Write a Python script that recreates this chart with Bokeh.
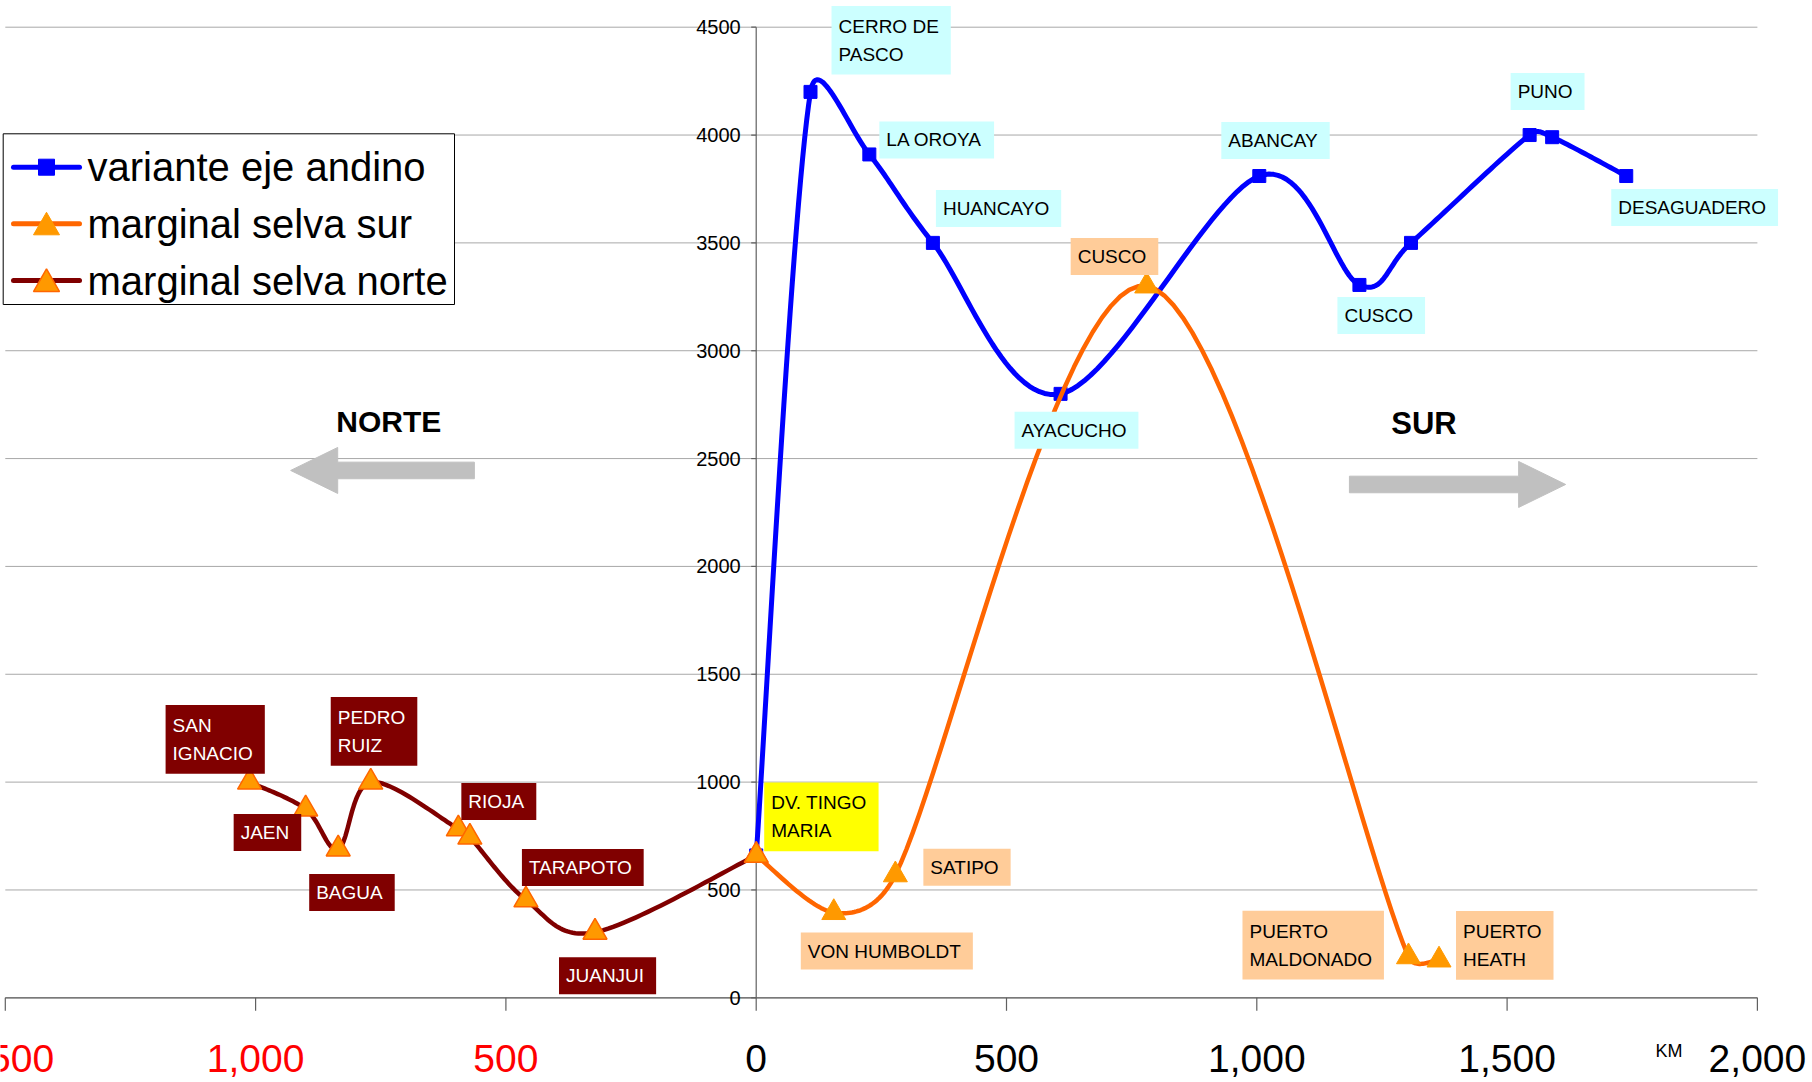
import math
from bokeh.plotting import figure
from bokeh.models import Range1d, Label
from bokeh.core.properties import value
from bokeh.embed import file_html
from bokeh.resources import INLINE

# ---------------- data ----------------
andino_km = [0, 108.5, 226, 353, 608, 1005, 1205, 1308, 1545, 1590, 1738]
andino_alt = [660, 4200, 3910, 3500, 2800, 3810, 3305, 3500, 4000, 3990, 3810]
andino_names = ["", "CERRO DE\nPASCO", "LA OROYA", "HUANCAYO", "AYACUCHO", "ABANCAY",
                "CUSCO", "", "PUNO", "", "DESAGUADERO"]

sur_km = [0, 155, 278, 780, 1303, 1364]
sur_alt = [660, 395, 570, 3300, 190, 175]
sur_names = ["DV. TINGO\nMARIA", "VON HUMBOLDT", "SATIPO", "CUSCO",
             "PUERTO\nMALDONADO", "PUERTO\nHEATH"]

norte_km = [-1012, -900, -835, -770, -595, -572, -460, -322, 0]
norte_alt = [1000, 875, 690, 1000, 783, 745, 454, 304, 660]
norte_names = ["SAN\nIGNACIO", "JAEN", "BAGUA", "PEDRO\nRUIZ", "RIOJA", "",
               "TARAPOTO", "JUANJUI", ""]

series_names = ["variante eje andino", "marginal selva sur", "marginal selva norte"]

x_ticks = [-1500, -1000, -500, 0, 500, 1000, 1500, 2000]
x_tick_labels = ["1,500", "1,000", "500", "0", "500", "1,000", "1,500", "2,000"]
y_ticks = [0, 500, 1000, 1500, 2000, 2500, 3000, 3500, 4000, 4500]
y_tick_labels = [str(v) for v in y_ticks]

# label box offsets (px, from point to box top-left; dy downward)
andino_dx = [0, 21, 10, 3, -46, -38, -22, 0, -19, 0, -15]
andino_dy = [0, -86, -33, -53, 18, -54, 12, 0, -62, 0, 13]
sur_dx = [8, -33, 28, -76, -166, 17]
sur_dy = [-73, 20, -26, -48, -46, -49]
norte_dx = [-84, -72, -29, -40, 3, 0, -4, -36, 0]
norte_dy = [-77, 5, 25, -85, -46, 0, -51, 25, 0]

# ---------------- layout ----------------
W, H = 1812, 1082
ORIGIN_X, ORIGIN_Y = 755.7, 997.3      # pixel position of (0 km, 0 m)
PX_KM = 0.5006
PX_M = 0.21569
X0, X1 = -ORIGIN_X / PX_KM, (W - ORIGIN_X) / PX_KM
Y0, Y1 = -(H - ORIGIN_Y) / PX_M, ORIGIN_Y / PX_M
XMIN, XMAX, YMAX = -1500, 2000, 4500


def PX(px):
    return (px - ORIGIN_X) / PX_KM


def PY(py):
    return (ORIGIN_Y - py) / PX_M


FONT = "Liberation Sans"
BLUE = "#0000FF"
ORANGE = "#FF6600"
TRI_FILL = "#FF9900"
MAROON = "#800000"
GRID = "#A8A8A8"
AXIS = "#606060"


def excel_smooth(xs, ys, n=30):
    P = [(x * PX_KM, y * PX_M) for x, y in zip(xs, ys)]
    out_x, out_y = [xs[0]], [ys[0]]

    def d(a, b):
        return math.hypot(a[0] - b[0], a[1] - b[1])

    for i in range(len(P) - 1):
        p0 = P[i - 1] if i > 0 else P[i]
        p1, p2 = P[i], P[i + 1]
        p3 = P[i + 2] if i + 2 < len(P) else P[i + 1]
        d12, d02, d13 = d(p1, p2), d(p0, p2), d(p1, p3)
        f1 = min(1 / 6, d12 / 2 / d02) if d02 > 0 else 0
        f2 = min(1 / 6, d12 / 2 / d13) if d13 > 0 else 0
        c1 = (p1[0] + (p2[0] - p0[0]) * f1, p1[1] + (p2[1] - p0[1]) * f1)
        c2 = (p2[0] - (p3[0] - p1[0]) * f2, p2[1] - (p3[1] - p1[1]) * f2)
        for k in range(1, n + 1):
            t = k / n
            a, b, c, e = (1 - t) ** 3, 3 * (1 - t) ** 2 * t, 3 * (1 - t) * t ** 2, t ** 3
            px = a * p1[0] + b * c1[0] + c * c2[0] + e * p2[0]
            py = a * p1[1] + b * c1[1] + c * c2[1] + e * p2[1]
            out_x.append(px / PX_KM)
            out_y.append(py / PX_M)
    return out_x, out_y


p = figure(width=W, height=H, output_backend="svg", toolbar_location=None,
           x_range=Range1d(X0, X1), y_range=Range1d(Y0, Y1),
           x_axis_location=None, y_axis_location=None,
           min_border_left=0, min_border_right=0, min_border_top=0, min_border_bottom=0)
p.outline_line_color = None
p.background_fill_color = "white"
p.border_fill_color = "white"
for g in p.grid:
    g.visible = False

# horizontal gridlines
p.segment(x0=[XMIN] * len(y_ticks), y0=y_ticks, x1=[XMAX] * len(y_ticks), y1=y_ticks,
          line_color=GRID, line_width=1)

# x axis (bottom) with ticks and labels
p.segment(x0=[XMIN], y0=[0], x1=[XMAX], y1=[0], line_color=AXIS, line_width=1.2)
p.segment(x0=x_ticks, y0=[0] * len(x_ticks), x1=x_ticks, y1=[-13 / PX_M] * len(x_ticks),
          line_color=AXIS, line_width=1.2)
p.text(x=x_ticks, y=[-60.5 / PX_M] * len(x_ticks), text=x_tick_labels,
       text_color=["#FF0000" if t < 0 else "black" for t in x_ticks],
       text_align="center", text_baseline="middle", text_font=value(FONT),
       text_font_size="39px")
p.text(x=[XMAX], y=[-53 / PX_M], x_offset=-102, text=["KM"], text_align="left",
       text_baseline="middle", text_font=value(FONT), text_font_size="18px",
       text_color="black")

# central y axis
p.segment(x0=[0], y0=[0], x1=[0], y1=[YMAX], line_color=AXIS, line_width=1.2)
p.segment(x0=[-5 / PX_KM] * len(y_ticks), y0=y_ticks, x1=[0] * len(y_ticks), y1=y_ticks,
          line_color=AXIS, line_width=1.2)
p.text(x=[0] * len(y_ticks), y=y_ticks, text=y_tick_labels, x_offset=-15.5,
       text_align="right", text_baseline="middle", text_font=value(FONT),
       text_font_size="20px", text_color="black")


# direction arrows
def arrow(x_tail, x_head_base, x_tip, yc):
    hh = 23 / PX_M
    sh = 8.3 / PX_M
    xs = [x_tail, x_head_base, x_head_base, x_tip, x_head_base, x_head_base, x_tail]
    ys = [yc - sh, yc - sh, yc - hh, yc, yc + hh, yc + sh, yc + sh]
    p.patch(xs, ys, fill_color="#C0C0C0", line_color="#C0C0C0")


arrow(-563, -836, -930, 2445)
arrow(1185, 1523, 1617, 2380)
p.text(x=[-734], y=[2670], text=["NORTE"], text_align="center", text_baseline="middle",
       text_font=value(FONT), text_font_size="30px", text_font_style="bold", text_color="black")
p.text(x=[1334], y=[2663], text=["SUR"], text_align="center", text_baseline="middle",
       text_font=value(FONT), text_font_size="31px", text_font_style="bold", text_color="black")

# series
bx, by = excel_smooth(andino_km, andino_alt)
p.line(bx, by, line_color=BLUE, line_width=5, line_join="round")
p.scatter(andino_km, andino_alt, marker="square", size=13, fill_color=BLUE, line_color=BLUE)

ox, oy = excel_smooth(sur_km, sur_alt)
p.line(ox, oy, line_color=ORANGE, line_width=4.5, line_join="round")
p.scatter(sur_km, sur_alt, marker="triangle", size=24, fill_color=TRI_FILL, line_color=TRI_FILL)

nx, ny = excel_smooth(norte_km, norte_alt)
p.line(nx, ny, line_color=MAROON, line_width=4.5, line_join="round")
p.scatter(norte_km, norte_alt, marker="triangle", size=24,
          fill_color=TRI_FILL, line_color=ORANGE, line_width=1.5)


# data labels
def add_labels(xs, ys, names, dxs, dys, bg, fg):
    for x, y, name, dx, dy in zip(xs, ys, names, dxs, dys):
        if not name:
            continue
        two = "\n" in name
        p.add_layout(Label(x=x, y=y, x_offset=dx, y_offset=-dy, text=name,
                           anchor="top_left", text_font=FONT, text_font_size="19px",
                           text_color=fg, text_line_height=1.32,
                           background_fill_color=bg, background_fill_alpha=1.0,
                           padding=dict(left=7, right=12, top=10 if two else 8,
                                        bottom=10 if two else 8)))


add_labels(andino_km, andino_alt, andino_names, andino_dx, andino_dy, "#CCFFFF", "black")
sur_bg = ["#FFFF00"] + ["#FFCC99"] * (len(sur_km) - 1)
for i in range(len(sur_km)):
    add_labels([sur_km[i]], [sur_alt[i]], [sur_names[i]], [sur_dx[i]], [sur_dy[i]],
               sur_bg[i], "black")
add_labels(norte_km, norte_alt, norte_names, norte_dx, norte_dy, MAROON, "white")

# legend (boxed, top-left)
p.quad(left=[PX(2.7)], right=[PX(454)], top=[PY(133.3)], bottom=[PY(304)],
       fill_color="white", line_color="black", line_width=1)
rows = [166.7, 223.3, 280.0]
leg_line_colors = [BLUE, ORANGE, MAROON]
for r, col in zip(rows, leg_line_colors):
    p.segment(x0=[PX(13)], y0=[PY(r)], x1=[PX(79)], y1=[PY(r)], line_color=col,
              line_width=5, line_cap="round")
p.scatter([PX(46)], [PY(rows[0])], marker="square", size=16, fill_color=BLUE, line_color=BLUE)
p.scatter([PX(46)], [PY(rows[1] + 3.5)], marker="triangle", size=26,
          fill_color=TRI_FILL, line_color=TRI_FILL)
p.scatter([PX(46)], [PY(rows[2] + 3.5)], marker="triangle", size=26,
          fill_color=TRI_FILL, line_color=ORANGE, line_width=1.5)
p.text(x=[PX(87)] * 3, y=[PY(r) for r in rows], text=series_names, text_align="left",
       text_baseline="middle", text_font=value(FONT), text_font_size="40px",
       text_color="black")

open("out.html", "w").write(file_html(p, INLINE))
